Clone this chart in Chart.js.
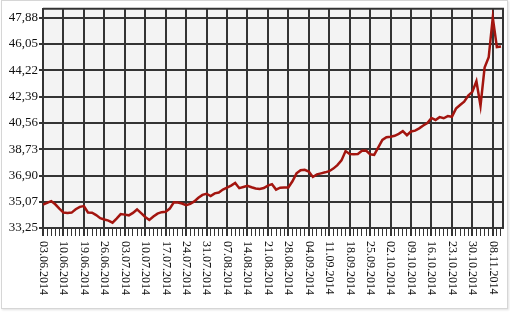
<!DOCTYPE html>
<html>
<head>
<meta charset="utf-8">
<script src="https://cdn.jsdelivr.net/npm/chart.js@4/dist/chart.umd.min.js"></script>
<style>
  html,body{margin:0;padding:0;background:#fff;}
  #wrap{position:relative;width:510px;height:314px;overflow:hidden;}
  #panel{position:absolute;left:1px;top:0px;width:505px;height:307px;border:1px solid #d6d6d6;box-shadow:1px 1px 2px #e0e0e0;background:#fff;}
  #c{position:absolute;left:0;top:0;}
</style>
</head>
<body>
<div id="wrap"><div id="panel"></div><canvas id="c" width="510" height="314"></canvas></div>
<script>
// Tick labels (every 5th trading day)
const dateLabels = ["03.06.2014","10.06.2014","19.06.2014","26.06.2014","03.07.2014","10.07.2014",
  "17.07.2014","24.07.2014","31.07.2014","07.08.2014","14.08.2014","21.08.2014","28.08.2014",
  "04.09.2014","11.09.2014","18.09.2014","25.09.2014","02.10.2014","09.10.2014","16.10.2014",
  "23.10.2014","30.10.2014","08.11.2014"];
const yTickValues = [33.25, 35.07, 36.90, 38.73, 40.56, 42.39, 44.22, 46.05, 47.88];
// Series values, one per trading day
const rates = [
  34.88,35.00,35.12,34.90,34.60,34.32,34.30,34.32,34.55,34.72,
  34.77,34.33,34.31,34.15,33.93,33.84,33.76,33.62,33.90,34.22,
  34.18,34.13,34.30,34.54,34.28,34.02,33.81,34.05,34.25,34.35,
  34.38,34.60,35.04,35.02,34.95,34.84,34.93,35.10,35.35,35.55,
  35.63,35.47,35.66,35.72,35.92,36.05,36.20,36.38,36.02,36.10,
  36.18,36.08,36.00,35.96,36.03,36.20,36.30,35.92,36.05,36.06,
  36.07,36.50,37.05,37.27,37.30,37.18,36.80,36.98,37.05,37.12,
  37.20,37.38,37.62,37.95,38.60,38.40,38.38,38.40,38.62,38.64,
  38.38,38.33,38.85,39.37,39.56,39.60,39.66,39.80,39.98,39.70,
  39.96,40.02,40.18,40.38,40.55,40.90,40.76,40.96,40.88,41.03,
  40.98,41.55,41.80,42.03,42.45,42.72,43.45,41.75,44.40,45.12,
  47.88,45.83,45.87
];

const gridColor = '#343434';
const serif = '"Liberation Serif","Times New Roman",serif';

const framePlugin = {
  id: 'frame',
  beforeDraw(chart) {
    const a = chart.chartArea, ctx = chart.ctx;
    ctx.save();
    ctx.fillStyle = '#f3f3f3';
    ctx.fillRect(a.left, a.top, a.right - a.left, a.bottom - a.top);
    ctx.restore();
  },
  afterDraw(chart) {
    const a = chart.chartArea, ctx = chart.ctx;
    ctx.save();
    ctx.strokeStyle = gridColor;
    ctx.lineWidth = 2;
    ctx.beginPath();
    ctx.moveTo(a.left, a.top); ctx.lineTo(a.right, a.top); ctx.lineTo(a.right, a.bottom);
    ctx.stroke();
    // rotated date labels (reading top to bottom)
    const xs = chart.scales.x;
    ctx.fillStyle = '#111';
    ctx.font = '12px ' + serif;
    ctx.textAlign = 'left';
    ctx.textBaseline = 'middle';
    dateLabels.forEach((lab, k) => {
      const px = xs.getPixelForValue(k * 5);
      ctx.save();
      ctx.translate(px, a.bottom + 13);
      ctx.rotate(Math.PI / 2);
      ctx.fillText(lab, 0, 0);
      ctx.restore();
    });
    ctx.restore();
  }
};

new Chart(document.getElementById('c'), {
  type: 'line',
  data: {
    datasets: [{
      data: rates.map((v, i) => ({x: i, y: v})),
      borderColor: '#a3150f',
      borderWidth: 2.5,
      pointRadius: 0,
      tension: 0,
      borderJoinStyle: 'miter',
      fill: false
    }]
  },
  options: {
    responsive: false,
    animation: false,
    events: [],
    layout: {padding: {top: 3, right: 7, left: 0, bottom: 0}},
    plugins: {legend: {display: false}, tooltip: {enabled: false}},
    scales: {
      x: {
        type: 'linear',
        min: 0,
        max: 112.5,
        afterBuildTicks: s => { s.ticks = rates.map((_, i) => ({value: i})); },
        afterFit: s => { s.height = 86; },
        ticks: {display: false, autoSkip: false},
        grid: {
          color: c => (c.tick && c.tick.value % 5 === 0) ? gridColor : 'rgba(0,0,0,0)',
          tickColor: gridColor,
          lineWidth: c => (c.tick && c.tick.value % 5 === 0) ? 2 : 1,
          tickLength: 8,
          drawTicks: true
        },
        border: {display: true, color: gridColor, width: 2}
      },
      y: {
        type: 'linear',
        min: 33.25,
        max: 48.49,
        afterBuildTicks: s => { s.ticks = yTickValues.map(v => ({value: v})); },
        afterFit: s => { s.width = 43; },
        ticks: {
          callback: v => v.toFixed(2).replace('.', ','),
          color: '#111',
          font: {family: serif, size: 13},
          padding: 1
        },
        grid: {color: gridColor, lineWidth: 2, tickLength: 4},
        border: {display: true, color: gridColor, width: 2}
      }
    }
  },
  plugins: [framePlugin]
});
</script>
</body>
</html>
